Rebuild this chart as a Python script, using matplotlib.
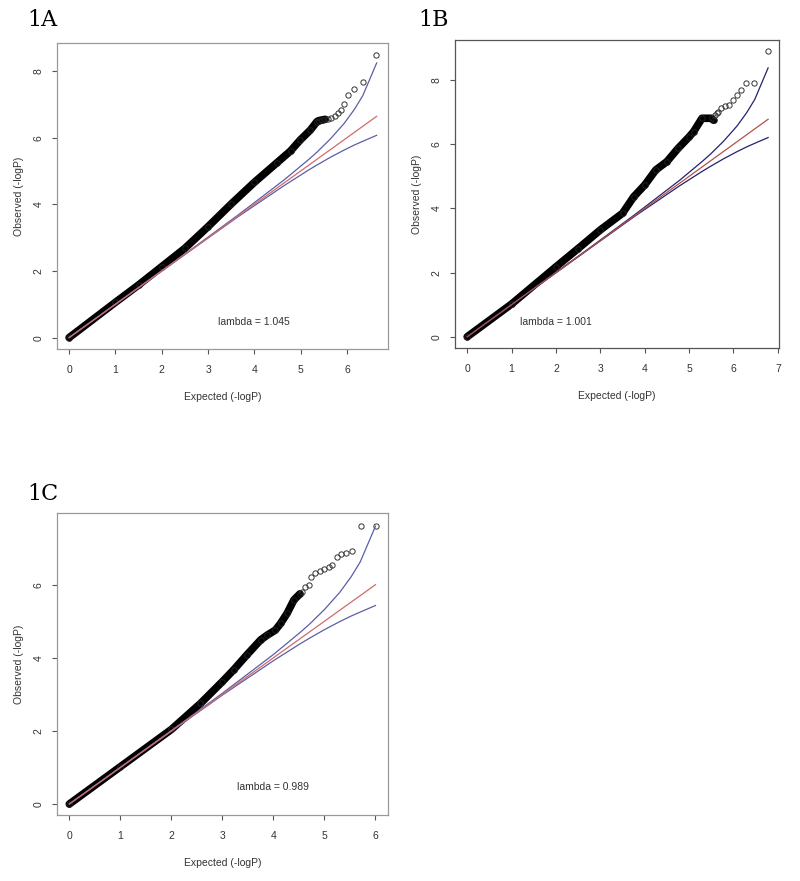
import matplotlib
matplotlib.use("Agg")
import matplotlib.pyplot as plt

plt.rcParams['font.family'] = ['Liberation Sans', 'DejaVu Sans']

# ---- panel 1A ----
a_obs_x = [0, 1.0, 1.5, 2.0, 2.5, 3.0, 3.5, 4.0, 4.49, 4.78, 4.99, 5.21, 5.35, 5.39, 5.46, 5.53]
a_obs_y = [0, 1.06, 1.58, 2.13, 2.68, 3.33, 4.01, 4.66, 5.25, 5.60, 5.93, 6.23, 6.48, 6.51, 6.53, 6.55]
a_top_x = [5.60, 5.66, 5.73, 5.80, 5.86, 5.93, 6.03, 6.16, 6.34, 6.63]
a_top_y = [6.56, 6.59, 6.65, 6.73, 6.83, 7.01, 7.27, 7.45, 7.67, 8.48]
a_exp = [0, 2.64, 3.64, 4.64, 5.16, 5.34, 5.64, 5.94, 6.16, 6.34, 6.64]
a_up = [0, 2.65, 3.67, 4.73, 5.33, 5.55, 5.96, 6.43, 6.85, 7.26, 8.24]
a_lo = [0, 2.63, 3.62, 4.56, 5.02, 5.17, 5.41, 5.63, 5.78, 5.89, 6.07]

# ---- panel 1B ----
b_obs_x = [0, 1.0, 2.0, 2.5, 3.0, 3.5, 3.75, 4.0, 4.25, 4.5, 4.75, 5.0, 5.10, 5.29, 5.51, 5.55]
b_obs_y = [0, 1.02, 2.18, 2.75, 3.33, 3.85, 4.36, 4.73, 5.20, 5.46, 5.87, 6.23, 6.39, 6.81, 6.81, 6.75]
b_top_x = [5.59, 5.63, 5.66, 5.72, 5.81, 5.89, 5.98, 6.07, 6.17, 6.29, 6.47, 6.78]
b_top_y = [6.91, 6.96, 7.01, 7.12, 7.19, 7.22, 7.37, 7.53, 7.68, 7.92, 7.92, 8.92]
b_exp = [0, 2.78, 3.78, 4.78, 5.30, 5.48, 5.78, 6.08, 6.30, 6.48, 6.78]
b_up = [0, 2.79, 3.81, 4.87, 5.47, 5.69, 6.10, 6.57, 6.99, 7.40, 8.38]
b_lo = [0, 2.77, 3.76, 4.70, 5.16, 5.31, 5.55, 5.77, 5.92, 6.03, 6.21]

# ---- panel 1C ----
c_obs_x = [0, 1.0, 2.0, 2.57, 3.0, 3.22, 3.48, 3.75, 3.88, 4.04, 4.14, 4.27, 4.40, 4.52]
c_obs_y = [0, 1.02, 2.04, 2.75, 3.35, 3.67, 4.08, 4.49, 4.62, 4.76, 4.94, 5.22, 5.58, 5.75]
c_top_x = [4.56, 4.62, 4.69, 4.73, 4.82, 4.92, 4.99, 5.08, 5.14, 5.24, 5.32, 5.42, 5.54, 5.72, 6.01]
c_top_y = [5.81, 5.93, 5.99, 6.22, 6.31, 6.38, 6.42, 6.47, 6.54, 6.77, 6.84, 6.87, 6.93, 7.60, 7.60]
c_exp = [0, 2.0, 3.0, 4.0, 4.52, 4.70, 5.0, 5.30, 5.52, 5.70, 6.0]
c_up = [0, 2.01, 3.03, 4.09, 4.69, 4.91, 5.32, 5.79, 6.21, 6.62, 7.60]
c_lo = [0, 1.99, 2.98, 3.92, 4.38, 4.53, 4.77, 4.99, 5.14, 5.25, 5.43]

lambdas = ["lambda = 1.045", "lambda = 1.001", "lambda = 0.989"]

fig = plt.figure(figsize=(8, 8.81), dpi=100)

def qq_panel(rect, ox, oy, tx, ty, ex, up, lo, xlim, ylim, xticks, yticks,
             lam, lam_xy, frame, band_col, red_col):
    ax = fig.add_axes(rect)
    ax.plot(ox, oy, color="black", lw=5.5, solid_capstyle="round",
            solid_joinstyle="round", zorder=2)
    ax.plot(ox, oy, "o", mfc="none", mec="#222222", ms=4, mew=0.7, zorder=2)
    ax.plot(tx, ty, "o", mfc="none", mec="#333333", ms=3.8, mew=0.7, zorder=2)
    ax.plot(ex, up, color=band_col, lw=0.9, zorder=3)
    ax.plot(ex, lo, color=band_col, lw=0.9, zorder=3)
    ax.plot([0, ex[-1]], [0, ex[-1]], color=red_col, lw=0.9, zorder=3)
    ax.set_xlim(xlim)
    ax.set_ylim(ylim)
    ax.set_xticks(xticks)
    ax.set_yticks(yticks)
    ax.tick_params(axis="both", labelsize=7.5, colors="#555555", length=3.6,
                   width=0.8, labelcolor="#333333")
    ax.tick_params(axis="x", pad=8)
    ax.tick_params(axis="y", pad=6)
    for lab in ax.get_yticklabels():
        lab.set_rotation(90)
        lab.set_va("center")
    for s in ax.spines.values():
        s.set_color(frame)
        s.set_linewidth(0.9)
    ax.set_xlabel("Expected (-logP)", fontsize=7.5, color="#333333", labelpad=12)
    ax.set_ylabel("Observed (-logP)", fontsize=7.5, color="#333333", labelpad=7)
    ax.text(lam_xy[0], lam_xy[1], lam, fontsize=7.5, color="#333333",
            ha="center", va="center")
    return ax

qq_panel([0.0713, 0.6039, 0.414, 0.3473], a_obs_x, a_obs_y, a_top_x, a_top_y,
         a_exp, a_up, a_lo, (-0.26, 6.89), (-0.34, 8.84), range(0, 7), [0, 2, 4, 6, 8],
         lambdas[0], (4.0, 0.47), "#999999", "#5b5ea6", "#cf6b6b")

qq_panel([0.569, 0.605, 0.405, 0.3496], b_obs_x, b_obs_y, b_top_x, b_top_y,
         b_exp, b_up, b_lo, (-0.27, 7.03), (-0.35, 9.25), range(0, 8), [0, 2, 4, 6, 8],
         lambdas[1], (1.99, 0.46), "#555555", "#22226e", "#b0524a")

qq_panel([0.0713, 0.0749, 0.414, 0.3428], c_obs_x, c_obs_y, c_top_x, c_top_y,
         c_exp, c_up, c_lo, (-0.24, 6.25), (-0.30, 7.96), range(0, 7), [0, 2, 4, 6],
         lambdas[2], (4.0, 0.47), "#999999", "#5b5ea6", "#cf6b6b")

for x, y, t in [(0.034, 0.9705, "1A"), (0.5225, 0.9705, "1B"), (0.034, 0.4325, "1C")]:
    fig.text(x, y, t, fontsize=16, family="DejaVu Serif", va="baseline", ha="left")

fig.savefig("out.png", dpi=100)
